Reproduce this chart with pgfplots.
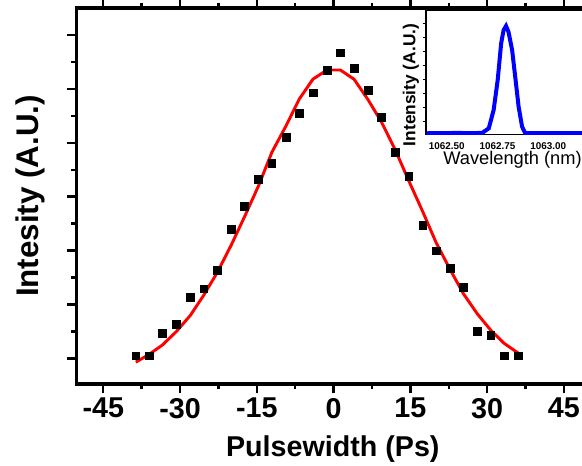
\documentclass[border=0pt]{standalone}
\usepackage{pgfplots}
\pgfplotsset{compat=1.18}
\usepackage{fontspec}
\setmainfont{Liberation Sans}
\begin{document}
\begin{tikzpicture}
\begin{axis}[
  at={(0,0)}, anchor=south west,
  scale only axis,
  width=385pt, height=282pt,
  xmin=-50.3, xmax=50, ymin=-0.095, ymax=1.3,
  xtick={-45,-30,-15,0,15,30,45},
  xticklabels={-45,-30,-15,0,15,30,45},
  minor x tick num=1,
  ytick={0,0.2,0.4,0.6,0.8,1.0,1.2},
  yticklabels={},
  minor y tick num=1,
  tick align=outside,
  major tick length=7pt,
  minor tick length=4pt,
  tick style={black, line width=1.8pt},
  axis line style={line width=2.3pt},
  xticklabel style={font=\bfseries\fontsize{21.5}{24}\selectfont},
  xlabel={Pulsewidth (Ps)},
  xlabel style={at={(axis description cs:0.5,-0.173)}, anchor=center, font=\bfseries\fontsize{21.5}{24}\selectfont},
  ylabel={Intesity (A.U.)},
  ylabel style={at={(axis description cs:-0.0896,0.5)}, anchor=center, font=\bfseries\fontsize{23.5}{26}\selectfont},
]
\addplot[red, line width=2.2pt] coordinates {
(-38.64,-0.014) (-36.04,0.015) (-33.42,0.05) (-30.70,0.10) (-27.97,0.16)
(-25.35,0.235) (-22.69,0.32) (-20.01,0.42) (-17.41,0.525) (-14.67,0.64)
(-12.05,0.765) (-9.31,0.862) (-6.71,0.962) (-4.03,1.036) (-1.29,1.070)
(1.31,1.070) (3.99,1.036) (6.73,0.960) (9.33,0.878) (12.07,0.773)
(14.67,0.66) (17.41,0.545) (20.03,0.43) (22.76,0.33) (25.37,0.24)
(28.10,0.165) (30.70,0.105) (33.38,0.055) (36.06,0.02)
};
\addplot[only marks, mark=square*, mark size=2.9pt, black] coordinates {
(-38.64,0.010) (-36.04,0.010) (-33.42,0.093) (-30.70,0.126) (-27.97,0.228)
(-25.35,0.258) (-22.69,0.328) (-20.01,0.479) (-17.41,0.564) (-14.67,0.665)
(-12.05,0.724) (-9.31,0.821) (-6.71,0.909) (-4.03,0.986) (-1.29,1.068)
(1.31,1.134) (3.99,1.076) (6.73,0.996) (9.33,0.895) (12.07,0.766)
(14.67,0.676) (17.41,0.495) (20.03,0.399) (22.76,0.335) (25.37,0.264)
(28.10,0.101) (30.70,0.086) (33.38,0.010) (36.06,0.010)
};
\end{axis}
\begin{axis}[
  at={(262.4pt,187.3pt)}, anchor=south west,
  scale only axis, width=129.8pt, height=93.2pt,
  xmin=1062.398, xmax=1063.25, ymin=-0.089, ymax=0.7925,
  axis background/.style={fill=white},
  xtick={1062.5,1062.75,1063}, xticklabels={1062.50,1062.75,1063.00},
  xtick style={draw=none},
  xticklabel style={font=\bfseries\fontsize{7.4}{9}\selectfont},
  ytick={0,0.1,0.2,0.3,0.4,0.5,0.6,0.7}, yticklabels={}, ytick pos=left,
  ytick style={black, line width=0.6pt}, tick align=outside, major tick length=2.5pt,
  axis line style={line width=0.8pt},
  xlabel={Wavelength (nm)},
  xlabel style={at={(axis description cs:0.5,-0.207)}, anchor=center, font=\fontsize{13.7}{16}\selectfont},
  ylabel={Intensity (A.U.)},
  ylabel style={at={(axis description cs:-0.0867,0.397)}, anchor=center, font=\bfseries\fontsize{13}{15}\selectfont},
]
\addplot[blue, line width=3pt] coordinates {
(1062.40,-0.082) (1062.45,-0.080) (1062.50,-0.081) (1062.55,-0.079) (1062.60,-0.081)
(1062.65,-0.080) (1062.674,-0.080) (1062.707,-0.047) (1062.731,0.083) (1062.751,0.296)
(1062.768,0.556) (1062.780,0.650) (1062.792,0.679) (1062.804,0.638) (1062.822,0.509)
(1062.839,0.296) (1062.854,0.106) (1062.871,-0.035) (1062.887,-0.082) (1062.90,-0.081)
(1062.95,-0.080) (1063.00,-0.081) (1063.05,-0.080) (1063.10,-0.081) (1063.20,-0.080)
};
\end{axis}
\pgfresetboundingbox
\path (-57.1pt,-60.75pt) rectangle (379.4pt,288pt);
\end{tikzpicture}
\end{document}
